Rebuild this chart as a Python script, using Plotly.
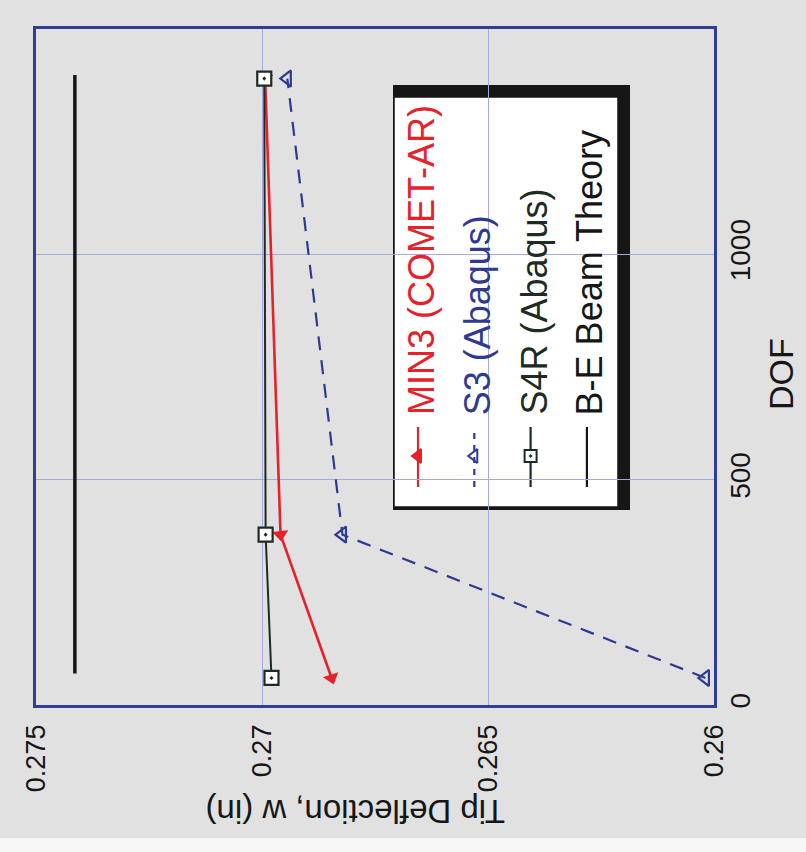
import plotly.graph_objects as go

# ---------------- data ----------------
dof = [60, 378, 1390]
min3 = [0.26846, 0.26959, 0.26993]
s3 = [0.26019, 0.26822, 0.26944]
s4r = [0.26979, 0.26992, 0.26995]
be_dof = [70, 1398]
be = [0.27414, 0.27414]

defl_ticks = [0.26, 0.265, 0.27, 0.275]
defl_ticktext = ["0.26", "0.265", "0.27", "0.275"]
dof_ticks = [0, 500, 1000, 1500]
dof_ticktext = ["0", "500", "1000", "1500"]

legend_labels = ["MIN3 (COMET-AR)", "S3 (Abaqus)", "S4R (Abaqus)", "B-E Beam Theory"]

# ---------------- styling ----------------
W, H = 806, 852
L, R, T, B = 36, 92, 29, 147
PW, PH = W - L - R, H - T - B

RED = "#e5222b"
BLUE = "#2e3a92"
DARK = "#1d2b23"
BLACK = "#161616"
FRAME = "#2f3d93"
GRID = "#a5a9dc"
BG = "#e1e1e1"
FONT = "Liberation Sans, Arial, sans-serif"


def pxx(x):
    return (x - L) / PW


def pxy(y):
    return (H - B - y) / PH


fig = go.Figure()

# data traces (rotated chart: deflection horizontal, DOF vertical)
fig.add_trace(go.Scatter(x=be, y=be_dof, mode="lines",
                         line=dict(color=BLACK, width=3.5), showlegend=False))
fig.add_trace(go.Scatter(x=s3, y=dof, mode="lines+markers",
                         line=dict(color=BLUE, width=2.2, dash="14px,10px"),
                         marker=dict(symbol="triangle-left-open", size=14, color=BLUE,
                                     line=dict(color=BLUE, width=2.2)),
                         showlegend=False))
fig.add_trace(go.Scatter(x=min3, y=dof, mode="lines+markers",
                         line=dict(color=RED, width=2.6),
                         marker=dict(symbol="triangle-down", size=14, color=RED,
                                     angle=[-18, -6, 0]),
                         showlegend=False))
fig.add_trace(go.Scatter(x=s4r, y=dof, mode="lines+markers",
                         line=dict(color=DARK, width=2),
                         marker=dict(symbol="square-dot", size=14, color="white",
                                     line=dict(color=DARK, width=2.2)),
                         showlegend=False))

# ---------------- hand-drawn (rotated) legend ----------------
shapes = []
annotations = []

# paper edge strip at the bottom of the scan
shapes.append(dict(type="rect", xref="paper", yref="paper", layer="below",
                   x0=pxx(0), x1=pxx(W), y0=pxy(838), y1=pxy(H),
                   fillcolor="#f7f7f7", line=dict(width=0)))

# legend shadow + box
shapes.append(dict(type="rect", xref="paper", yref="paper", layer="between",
                   x0=pxx(393), x1=pxx(630), y0=pxy(510), y1=pxy(85),
                   fillcolor=BLACK, line=dict(width=0)))
shapes.append(dict(type="rect", xref="paper", yref="paper", layer="between",
                   x0=pxx(394), x1=pxx(618), y0=pxy(507), y1=pxy(97),
                   fillcolor="white", line=dict(color=BLACK, width=1.5)))

leg_colors = [RED, BLUE, DARK, BLACK]
leg_dash = ["solid", "6px,6px", "solid", "solid"]
leg_symbols = ["triangle-left", "triangle-left-open", "square-dot", None]
leg_marker_fill = [RED, BLUE, "white", None]
col0, dcol = 421, 56.3
for i, lab in enumerate(legend_labels):
    cx = col0 + i * dcol
    lx = cx - 3
    shapes.append(dict(type="line", xref="paper", yref="paper", layer="between",
                       x0=pxx(lx), x1=pxx(lx), y0=pxy(487), y1=pxy(427),
                       line=dict(color=leg_colors[i], width=2.2, dash=leg_dash[i])))
    annotations.append(dict(xref="paper", yref="paper", x=pxx(cx), y=pxy(417),
                            text=lab, showarrow=False, textangle=-90,
                            xanchor="center", yanchor="bottom",
                            font=dict(family=FONT, size=36, color=leg_colors[i])))
    if leg_symbols[i]:
        fig.add_trace(go.Scatter(x=[lx], y=[456], xaxis="x2", yaxis="y2",
                                 mode="markers", showlegend=False, hoverinfo="skip",
                                 marker=dict(symbol=leg_symbols[i], size=12,
                                             color=leg_marker_fill[i],
                                             line=dict(color=leg_colors[i], width=2))))

# axis titles (rotated scan)
annotations.append(dict(xref="paper", yref="paper", x=pxx(355), y=pxy(812),
                        text="Tip Deflection, w (in)", showarrow=False, textangle=180,
                        xanchor="center", yanchor="middle",
                        font=dict(family=FONT, size=33, color=BLACK)))
annotations.append(dict(xref="paper", yref="paper", x=pxx(781), y=pxy(374),
                        text="DOF", showarrow=False, textangle=-90,
                        xanchor="center", yanchor="middle",
                        font=dict(family=FONT, size=34, color=BLACK)))

fig.update_layout(
    width=W, height=H,
    margin=dict(l=L, r=R, t=T, b=B, pad=0),
    paper_bgcolor=BG, plot_bgcolor=BG,
    showlegend=False,
    shapes=shapes, annotations=annotations,
    xaxis=dict(range=[0.275, 0.26], tickvals=defl_ticks, ticktext=defl_ticktext,
               tickangle=-90, side="bottom", showgrid=True, gridcolor=GRID, gridwidth=1.2,
               zeroline=False, showline=True, linecolor=FRAME, linewidth=2.6, mirror=True,
               ticks="", ticklabelstandoff=6,
               tickfont=dict(family=FONT, size=27, color=BLACK)),
    yaxis=dict(range=[0, 1500], tickvals=dof_ticks, ticktext=dof_ticktext,
               tickangle=-90, side="right", showgrid=True, gridcolor=GRID, gridwidth=1.2,
               zeroline=False, showline=True, linecolor=FRAME, linewidth=2.6, mirror=True,
               ticks="", ticklabelstandoff=0,
               tickfont=dict(family=FONT, size=28, color=BLACK)),
    xaxis2=dict(range=[L, W - R], overlaying="x", anchor="y2", visible=False, fixedrange=True),
    yaxis2=dict(range=[H - B, T], overlaying="y", anchor="x2", visible=False, fixedrange=True),
)

fig.write_html("out.html", config={"displayModeBar": False},
               post_script="document.body.style.margin='0';")
